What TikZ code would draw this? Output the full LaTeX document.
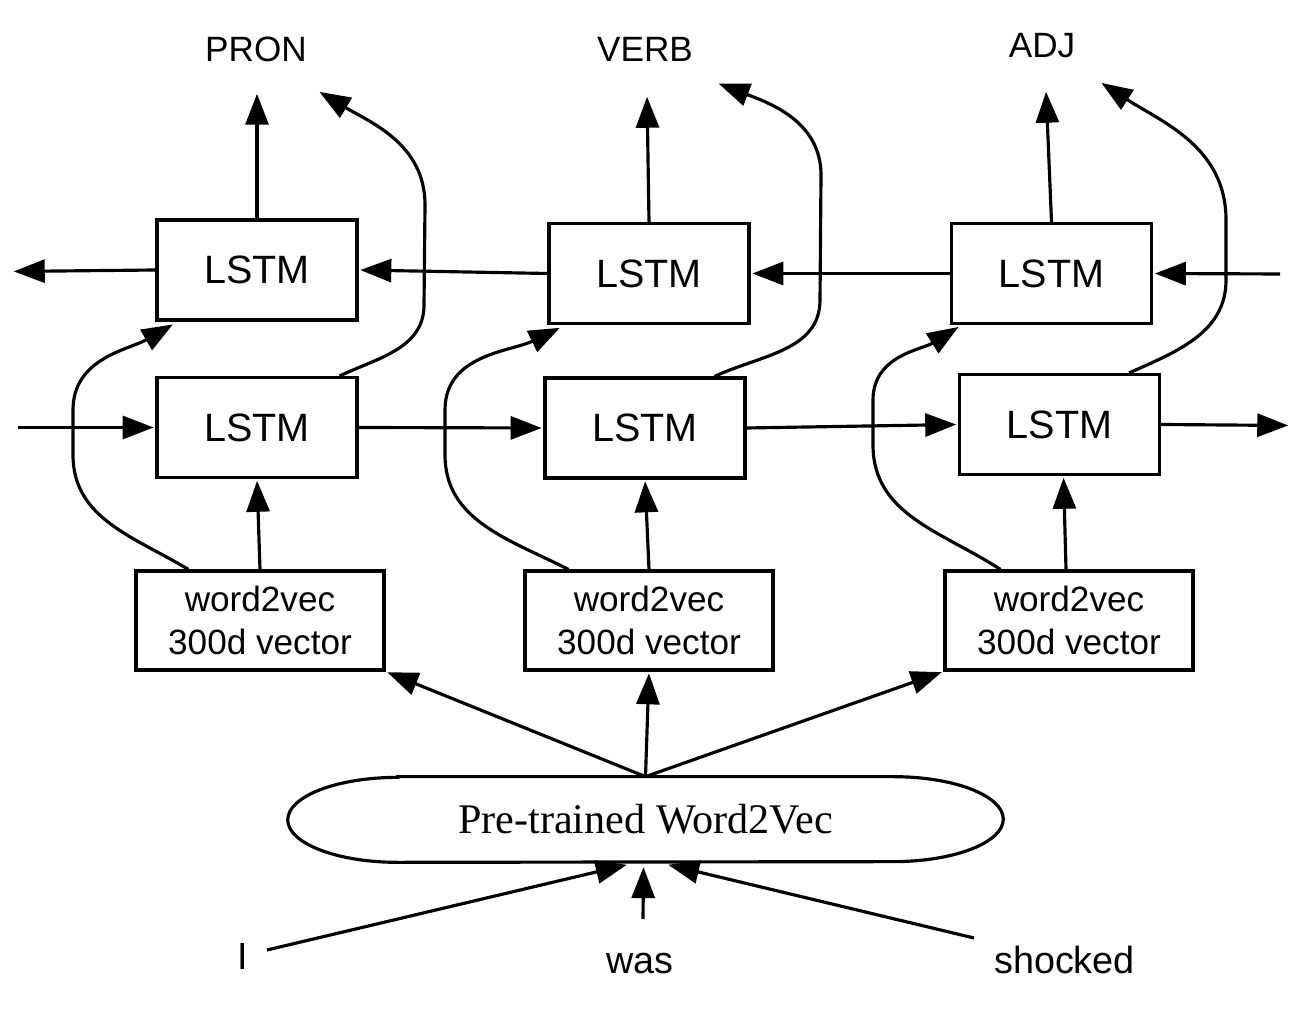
\documentclass[tikz,border=0pt]{standalone}
\usepackage{fontspec}
\setmainfont{Liberation Serif}
\setsansfont{Liberation Sans}
\usetikzlibrary{arrows.meta,calc}
\begin{document}
\begin{tikzpicture}[x=0.02cm,y=0.02cm,
  line/.style={line width=1.8pt},
  arr/.style={line width=1.8pt,-{Triangle[length=0.62cm,width=0.46cm]},shorten >=1pt},
  lstm/.style={draw,line width=1.8pt,minimum width=4cm,minimum height=2cm,inner sep=0pt,font=\sffamily\fontsize{22.5pt}{26pt}\selectfont},
  w2v/.style={draw,line width=1.8pt,minimum width=4.96cm,minimum height=1.98cm,inner sep=0pt,align=center,font=\sffamily\fontsize{20pt}{24.4pt}\selectfont},
  lab/.style={anchor=base,font=\sffamily\fontsize{20pt}{24pt}\selectfont},
  word/.style={anchor=base,font=\sffamily\fontsize{21.5pt}{25pt}\selectfont}]
\fill[white] (0,0) rectangle (1310,1010);
\useasboundingbox (0,0) rectangle (1310,1010);

% labels
\node[lab] (PRON) at (256,948) {PRON};
\node[lab] (VERB) at (645,948) {VERB};
\node[lab] (ADJ) at (1042,952) {ADJ};

% LSTM boxes
\node[lstm] (tA) at (257,740) {LSTM};
\node[lstm] (tB) at (649,736.5) {LSTM};
\node[lstm] (tC) at (1051.5,736.5) {LSTM};
\node[lstm] (bA) at (257,582.5) {LSTM};
\node[lstm] (bB) at (645,582) {LSTM};
\node[lstm] (bC) at (1059.5,585.5) {LSTM};

% word2vec boxes
\node[w2v] (wA) at (260,389.5) {word2vec\\300d vector};
\node[w2v] (wB) at (649,389.5) {word2vec\\300d vector};
\node[w2v] (wC) at (1069,389.5) {word2vec\\300d vector};

% pre-trained word2vec
\node[minimum width=14.3cm,minimum height=1.7cm,inner sep=0pt,font=\fontsize{24pt}{28pt}\selectfont] (E) at (645.5,190.5) {Pre-trained Word2Vec};
\draw[line] ($(E.north west)+(110,0)$) -- ($(E.north east)+(-110,0)$)
  arc[start angle=90,end angle=-90,x radius=2.2cm,y radius=0.85cm]
  -- ($(E.south west)+(110,0)$)
  arc[start angle=270,end angle=90,x radius=2.2cm,y radius=0.85cm] -- cycle;

% input words
\node[word] (I) at (243,41) {I};
\node[word] (was) at (640,37) {was};
\node[word] (shocked) at (1064.5,37) {shocked};

% free ends
\coordinate (pA) at (257,918);
\coordinate (pB) at (647,915);
\coordinate (pC) at (1046,920);
\coordinate (cA) at (318,919);
\coordinate (cB) at (717,927);
\coordinate (cC) at (1100,928);
\coordinate (lt) at (12,738.5);
\coordinate (rt) at (1280,736);
\coordinate (lb) at (18,582.5);
\coordinate (rb) at (1290,584.5);
\coordinate (tI) at (267,60);
\coordinate (tW) at (643,91);
\coordinate (tS) at (974,72);

% outputs up
\draw[arr] (tA.north) -- (pA);
\draw[arr] (tB.north) -- (pB);
\draw[arr] (tC.north) -- (pC);

% backward LSTM outputs curving up
\draw[arr] ($(bA.north east)+(-19,0)$) to[out=25,in=-90] (424,705) -- (425,805) to[out=90,in=-31] (cA);
\draw[arr] ($(bB.north east)+(-32,0)$) to[out=25,in=-90] (820,710) -- (821,835) to[out=90,in=-21] (cB);
\draw[arr] ($(bC.north east)+(-32,0)$) to[out=24,in=-90] (1226,730) -- (1226,790) to[out=90,in=-33] (cC);

% word2vec to top LSTM curves
\draw[arr] ($(wA.north west)+(54,0)$) to[out=149,in=-90] (73,555) -- (73,600) to[out=90,in=210] ($(tA.south west)+(19,-2)$);
\draw[arr] ($(wB.north west)+(45,0)$) to[out=153,in=-90] (445,555) -- (445,600) to[out=90,in=206] ($(tB.south west)+(14,-2)$);
\draw[arr] ($(wC.north west)+(57,0)$) to[out=147,in=-90] (873,565) -- (873,610) to[out=90,in=212] ($(tC.south west)+(10,-1)$);

% horizontal top row (leftward)
\draw[arr] (tA.west) -- (lt);
\draw[arr] (tB.west) -- (tA.east);
\draw[arr] (tC.west) -- (tB.east);
\draw[arr] (rt) -- (tC.east);

% horizontal bottom row (rightward)
\draw[arr] (lb) -- (bA.west);
\draw[arr] (bA.east) -- (bB.west);
\draw[arr] (bB.east) -- (bC.west);
\draw[arr] (bC.east) -- (rb);

% word2vec to bottom LSTM
\draw[arr] (wA.north) -- (bA.south);
\draw[arr] (wB.north) -- (bB.south);
\draw[arr] ($(wC.north)+(-3,0)$) -- ($(bC.south)+(4,0)$);

% pre-trained to word2vec
\draw[arr] (E.north) -- (wA.south east);
\draw[arr] (E.north) -- (wB.south);
\draw[arr] (E.north) -- (wC.south west);

% words to pre-trained
\draw[arr] (tI) -- ($(E.south)+(-17,-2)$);
\draw[arr] (tW) -- ($(E.south)+(-2,-3)$);
\draw[arr] (tS) -- ($(E.south)+(21,-2)$);
\end{tikzpicture}
\end{document}
